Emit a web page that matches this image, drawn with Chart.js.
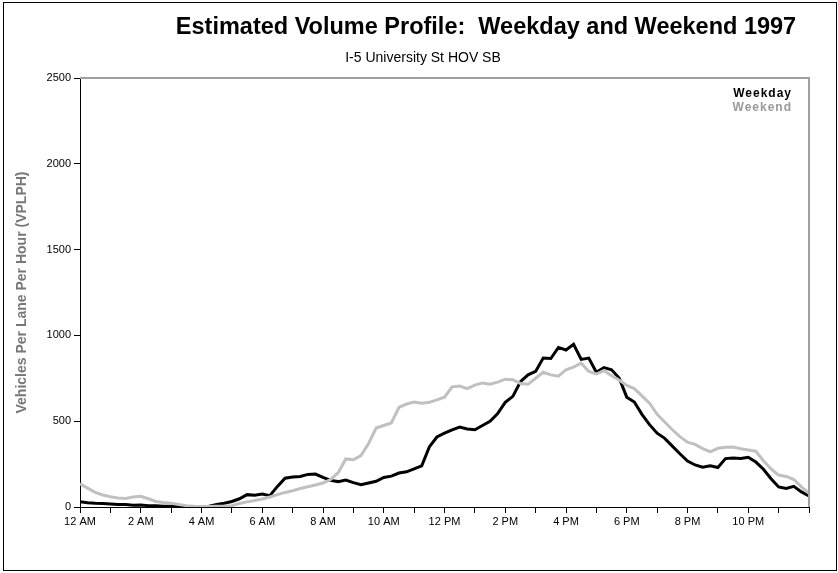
<!DOCTYPE html>
<html>
<head>
<meta charset="utf-8">
<script src="https://cdn.jsdelivr.net/npm/chart.js@4/dist/chart.umd.min.js"></script>
<style>
  body { margin: 0; background: #fff; font-family: "Liberation Sans", Arial, sans-serif; }
  #wrap { position: relative; width: 838px; height: 573px; }
  #frame { position: absolute; left: 3px; top: 2px; width: 832px; height: 567px; border: 1px solid #000; pointer-events: none; }
  .title { position: absolute; left: 0; width: 972px; top: 13px; text-align: center; font-size: 23.5px; font-weight: bold; color: #000; }
  .subtitle { position: absolute; left: 0; width: 846px; top: 49px; text-align: center; font-size: 14px; color: #000; }
  .leg { position: absolute; right: 46px; font-size: 12px; font-weight: bold; letter-spacing: 1px; }
</style>
</head>
<body>
<div id="wrap">
  <canvas id="volumeChart" width="838" height="573"></canvas>
  <div id="frame"></div>
  <div class="title">Estimated Volume Profile:&nbsp; Weekday and Weekend 1997</div>
  <div class="subtitle">I-5 University St HOV SB</div>
  <div class="leg" style="top:86px;color:#000">Weekday</div>
  <div class="leg" style="top:100px;color:#999">Weekend</div>
</div>
<script>
// volumes every 15 minutes, 12 AM to midnight
const weekday = [
  30, 25, 22, 20, 18, 15, 14, 10, 12, 8, 7, 5,
  4, 3, 2, 2, 2, 4, 15, 22, 32, 48, 72, 68,
  75, 66, 120, 168, 175, 178, 190, 192, 172, 155, 148, 157,
  142, 130, 140, 150, 172, 180, 198, 205, 222, 240, 350, 408,
  430, 450, 466, 455, 450, 475, 500, 545, 610, 645, 730, 770,
  790, 868, 865, 930, 915, 948, 860, 868, 785, 812, 800, 752,
  640, 612, 540, 480, 430, 400, 355, 310, 268, 245, 232, 240,
  230, 282, 285, 283, 290, 262, 220, 165, 117, 108, 120, 88,
  65
];
const weekend = [
  135, 110, 85, 70, 60, 52, 50, 58, 62, 48, 32, 26,
  22, 15, 8, 5, 3, 3, 4, 4, 8, 20, 30, 38,
  47, 58, 72, 85, 95, 108, 118, 128, 140, 160, 200, 280,
  275, 300, 370, 460, 475, 490, 580, 600, 612, 605, 610, 624,
  640, 700, 705, 690, 710, 723, 715, 728, 745, 742, 720, 715,
  750, 785, 770, 762, 800, 815, 838, 790, 775, 795, 765, 740,
  708, 690, 648, 605, 540, 495, 450, 410, 378, 365, 340, 322,
  342, 348, 350, 340, 332, 325, 270, 222, 186, 178, 160, 117,
  80
];
const xTickLabels = ["12 AM", "2 AM", "4 AM", "6 AM", "8 AM", "10 AM",
  "12 PM", "2 PM", "4 PM", "6 PM", "8 PM", "10 PM"];

const times = weekday.map((v, i) => i * 0.25);

const plotFrame = {
  id: "plotFrame",
  afterDatasetsDraw(chart) {
    const { ctx, chartArea } = chart;
    ctx.save();
    ctx.strokeStyle = "#a0a0a0";
    ctx.lineWidth = 2;
    ctx.beginPath();
    ctx.moveTo(chartArea.left, chartArea.top);
    ctx.lineTo(chartArea.right, chartArea.top);
    ctx.lineTo(chartArea.right, chartArea.bottom);
    ctx.stroke();
    ctx.restore();
  }
};

new Chart("volumeChart", {
  type: "line",
  data: {
    datasets: [
      {
        label: "Weekend",
        data: times.map((t, i) => ({ x: t, y: weekend[i] })),
        borderColor: "#c0c0c0",
        borderWidth: 3,
        pointRadius: 0,
        tension: 0
      },
      {
        label: "Weekday",
        data: times.map((t, i) => ({ x: t, y: weekday[i] })),
        borderColor: "#000",
        borderWidth: 3,
        pointRadius: 0,
        tension: 0
      }
    ]
  },
  options: {
    responsive: false,
    animation: false,
    devicePixelRatio: 1,
    layout: { padding: { left: 0, top: 78, right: 29, bottom: 41 } },
    plugins: { legend: { display: false }, title: { display: false }, tooltip: { enabled: false } },
    scales: {
      x: {
        type: "linear",
        min: 0,
        max: 24,
        afterFit(scale) { scale.height = 25; },
        ticks: {
          stepSize: 1,
          autoSkip: false,
          maxRotation: 0,
          padding: 2,
          color: "#000",
          font: { family: "Liberation Sans", size: 11 },
          callback: (v) => (v % 2 === 0 && v < 24 ? xTickLabels[v / 2] : "")
        },
        grid: { drawOnChartArea: false, tickLength: 6, color: "#000" },
        border: { color: "#000", width: 1 }
      },
      y: {
        min: 0,
        max: 2500,
        afterFit(scale) { scale.width = 80; },
        ticks: {
          stepSize: 500,
          padding: 3,
          color: "#000",
          font: { family: "Liberation Sans", size: 11 },
          callback: (v) => String(v)
        },
        grid: { drawOnChartArea: false, tickLength: 6, color: "#000" },
        border: { color: "#000", width: 1 },
        title: {
          display: true,
          text: "Vehicles Per Lane Per Hour (VPLPH)",
          color: "#777",
          font: { family: "Liberation Sans", size: 14, weight: "bold" },
          padding: { top: 14, bottom: 0 }
        }
      }
    }
  },
  plugins: [plotFrame]
});
</script>
</body>
</html>
